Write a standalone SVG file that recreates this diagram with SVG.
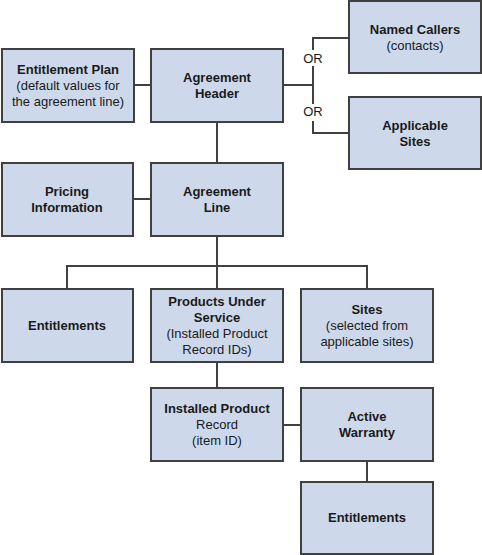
<svg xmlns="http://www.w3.org/2000/svg" width="482" height="555" viewBox="0 0 482 555">
<style>
.box{fill:#cdd9eb;stroke:#404040;stroke-width:2}
.ln{stroke:#404040;stroke-width:2;fill:none}
text{font-family:"Liberation Sans",Arial,sans-serif;font-size:13px;fill:#1a1a1a;text-anchor:middle}
.b{font-weight:bold}
</style>
<rect width="482" height="555" fill="#ffffff"/>
<g id="connectors">
<path class="ln" d="M134 85H151"/>
<path class="ln" d="M283 85H313"/>
<path class="ln" d="M349 38H313V50"/>
<path class="ln" d="M313 66V104"/>
<path class="ln" d="M313 121V133H349"/>
<path class="ln" d="M217 122V163"/>
<path class="ln" d="M133 199H151"/>
<path class="ln" d="M217 236V289"/>
<path class="ln" d="M67 289V266H367V289"/>
<path class="ln" d="M217 362V388"/>
<path class="ln" d="M283 425H301"/>
<path class="ln" d="M367 461V482"/>
<text x="313" y="63">OR</text>
<text x="313" y="116">OR</text>
</g>
<g id="entitlement-plan">
<rect class="box" x="2" y="49" width="132" height="73"/>
<text class="b" x="68" y="74">Entitlement Plan</text>
<text x="68" y="90">(default values for</text>
<text x="68" y="106">the agreement line)</text>
</g>
<g id="agreement-header">
<rect class="box" x="151" y="49" width="132" height="73"/>
<text class="b" x="217" y="82">Agreement</text>
<text class="b" x="217" y="98">Header</text>
</g>
<g id="named-callers">
<rect class="box" x="349" y="1" width="132" height="72"/>
<text class="b" x="415" y="34">Named Callers</text>
<text x="415" y="50">(contacts)</text>
</g>
<g id="applicable-sites">
<rect class="box" x="349" y="97" width="132" height="72"/>
<text class="b" x="415" y="130">Applicable</text>
<text class="b" x="415" y="146">Sites</text>
</g>
<g id="pricing-information">
<rect class="box" x="2" y="163" width="131" height="73"/>
<text class="b" x="67" y="196">Pricing</text>
<text class="b" x="67" y="212">Information</text>
</g>
<g id="agreement-line">
<rect class="box" x="151" y="163" width="132" height="73"/>
<text class="b" x="217" y="196">Agreement</text>
<text class="b" x="217" y="212">Line</text>
</g>
<g id="entitlements">
<rect class="box" x="2" y="289" width="131" height="73"/>
<text class="b" x="67" y="330">Entitlements</text>
</g>
<g id="products-under-service">
<rect class="box" x="151" y="289" width="132" height="73"/>
<text class="b" x="217" y="306">Products Under</text>
<text class="b" x="217" y="322">Service</text>
<text x="217" y="338">(Installed Product</text>
<text x="217" y="354">Record IDs)</text>
</g>
<g id="sites">
<rect class="box" x="301" y="289" width="132" height="73"/>
<text class="b" x="367" y="314">Sites</text>
<text x="367" y="330">(selected from</text>
<text x="367" y="346">applicable sites)</text>
</g>
<g id="installed-product-record">
<rect class="box" x="151" y="388" width="132" height="73"/>
<text class="b" x="217" y="413">Installed Product</text>
<text x="217" y="429">Record</text>
<text x="217" y="445">(item ID)</text>
</g>
<g id="active-warranty">
<rect class="box" x="301" y="388" width="132" height="73"/>
<text class="b" x="367" y="421">Active</text>
<text class="b" x="367" y="437">Warranty</text>
</g>
<g id="warranty-entitlements">
<rect class="box" x="301" y="482" width="132" height="72"/>
<text class="b" x="367" y="522">Entitlements</text>
</g>
</svg>
